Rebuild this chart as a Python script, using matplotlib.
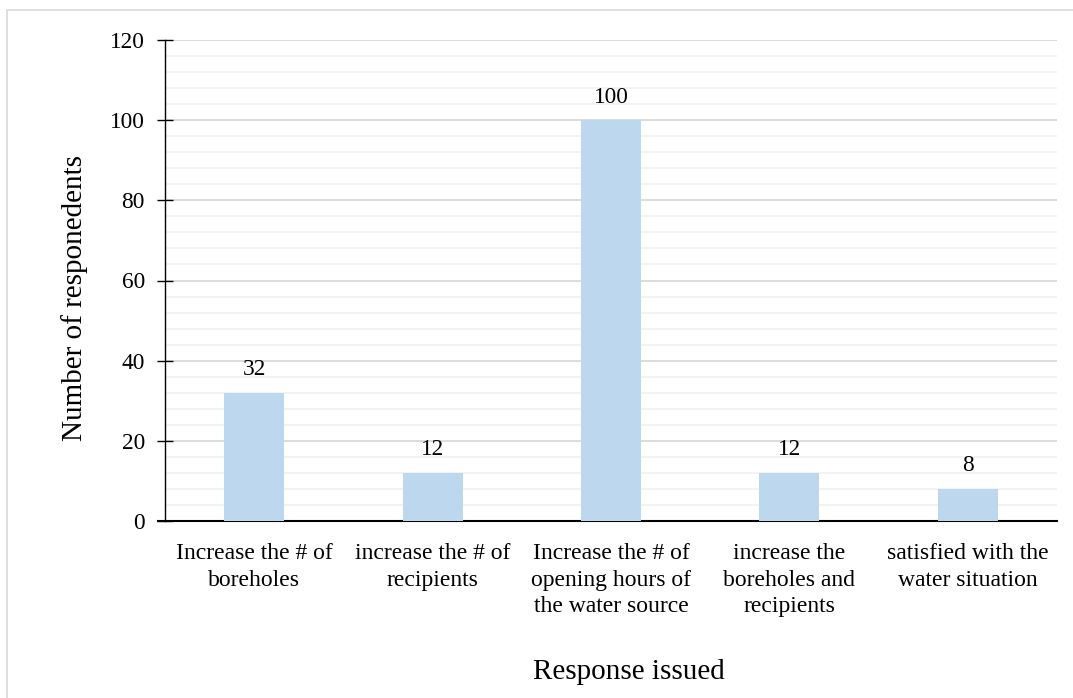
import matplotlib.pyplot as plt
from matplotlib.patches import Rectangle
import numpy as np

# responses and counts
categories = ["Increase the # of\nboreholes",
              "increase the # of\nrecipients",
              "Increase the # of\nopening hours of\nthe water source",
              "increase the\nboreholes and\nrecipients",
              "satisfied with the\nwater situation"]
counts = [32, 12, 100, 12, 8]
yticks = [0, 20, 40, 60, 80, 100, 120]

plt.rcParams['font.family'] = ['Liberation Serif', 'DejaVu Serif']

W, H = 1073, 698
fig = plt.figure(figsize=(W / 100, H / 100), dpi=100)

# light frame around the chart area
fig.patches.append(Rectangle((7 / W, -0.1), 1.2, (H - 10) / H + 0.1,
                             transform=fig.transFigure, fill=False,
                             edgecolor='#d9d9d9', linewidth=1.2))

ax = fig.add_axes([165 / W, 1 - 521 / H, (1057 - 165) / W, (521 - 40) / H])

x = np.arange(len(categories))
ax.bar(x, counts, width=0.336, color='#BDD7EE', zorder=3)

for xi, c in zip(x, counts):
    ax.annotate(str(c), (xi, c), xytext=(0, 9), textcoords='offset points',
                ha='center', va='bottom', fontsize=16.8, color='#000000')

ax.set_xlim(-0.5, len(categories) - 0.5)
ax.set_ylim(0, 120)
ax.set_yticks(yticks)
ax.set_yticks(np.arange(0, 121, 4), minor=True)
ax.grid(axis='y', which='major', color='#d9d9d9', linewidth=1.3, zorder=1)
ax.grid(axis='y', which='minor', color='#f2f2f2', linewidth=1.3, zorder=0)

ax.set_xticks(x)
ax.set_xticklabels(categories, fontsize=17, linespacing=1.34)
ax.tick_params(axis='x', length=0, pad=16)
ax.tick_params(axis='y', which='major', direction='inout', length=11,
               width=1, labelsize=16.8, pad=9)
ax.tick_params(axis='y', which='minor', length=0)

for side in ('top', 'right'):
    ax.spines[side].set_visible(False)
ax.spines['left'].set_linewidth(1)
ax.spines['bottom'].set_linewidth(1.5)
ax.spines['bottom'].set_bounds(-0.5 - 7 / 178.4, len(categories) - 0.5)

fig.text(629 / W, 1 - 672 / H, "Response issued", fontsize=21,
         ha='center', va='center')
fig.text(75 / W, 1 - 298 / H, "Number of responedents", fontsize=21,
         ha='center', va='center', rotation=90)

fig.savefig('out.png', dpi=100)
